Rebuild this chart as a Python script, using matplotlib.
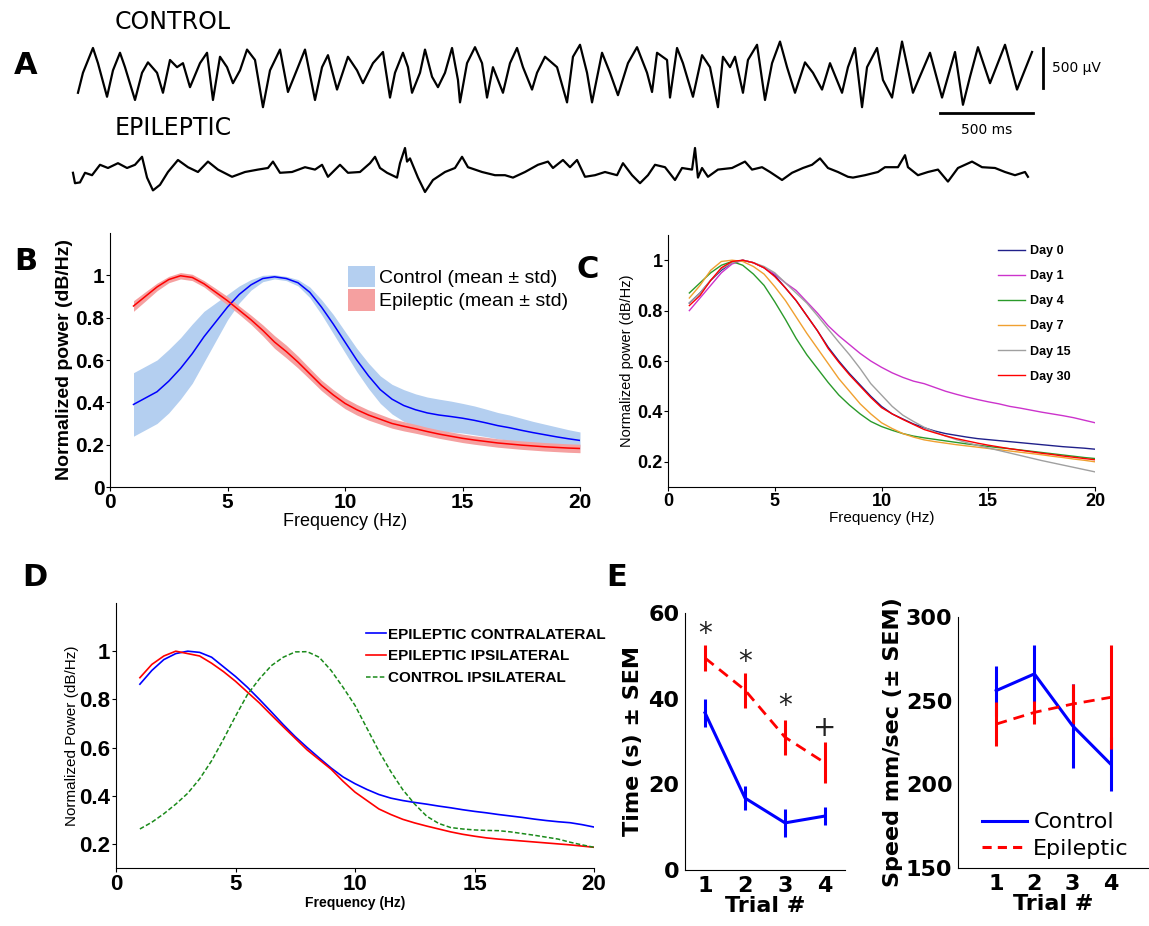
import matplotlib
matplotlib.use('Agg')
import matplotlib.pyplot as plt
import numpy as np
from matplotlib.patches import Patch
from matplotlib.lines import Line2D

# ---------------- data ----------------
# panel A: EEG traces (time in ms, voltage in uV)
ctrl_t = [16, 43, 97, 124, 173, 205, 243, 270, 324, 362, 394, 443, 475, 513, 551, 583, 621, 675, 713, 745,
          783, 821, 853, 891, 929, 972, 1015, 1053, 1107, 1150, 1204, 1242, 1296, 1334, 1366, 1415, 1474, 1523,
          1555, 1609, 1663, 1701,
          1728, 1771, 1798, 1820, 1863, 1890, 1928, 1960, 1998, 2036, 2068, 2079, 2117, 2160, 2198, 2225, 2257,
          2311, 2349, 2387, 2419, 2468, 2495, 2538, 2603, 2657, 2689, 2727, 2765, 2792, 2846, 2889, 2932, 2986,
          3035, 3089, 3116, 3143, 3197, 3213, 3251, 3283, 3337, 3386, 3429, 3472,
          3499, 3537, 3564, 3607, 3634, 3683, 3726, 3764, 3807, 3845, 3888, 3942, 3985, 4034, 4077, 4142, 4174,
          4212, 4250, 4277, 4331, 4363, 4412, 4466, 4525, 4617, 4682, 4752, 4795, 4833, 4876, 4941, 5022, 5087,
          5168]
ctrl_v = [-260, -10, 300, 110, -310, 20, 240, 60, -350, -10, 120, -10, -260, 150, 60, 110, -190, 110, 240, -350,
          190, 60, -140, 20, 280, 150, -440, 20, 280, -250, 60, 280, -350, 60, 210, -220, 190, 20,
          -140, 110, 250, -320,
          -10, 240, 60, -260, -10, 280, -60, -190, -10, 300, -100, -380, 110, 310, 110, -320, 60,
          -260, 110, 300, 60, -220, -10, 190, 60, -380, 190, 340, -10, -380, 240, -10, -290, 110,
          310, -10, -250, 240, 150, -320, 300, 110, -310, 210, 60, -440,
          190, 60, 190, -260, 150, 340, -350, 110, 380, 60, -260, 120, -10, -220, 110, -260, 60,
          300, -440, 60, 300, -100, -320, 380, -260, 240, -320, 250, -410, -60, 310, -140, 340, -220,
          250]

epi_t = [-11, 0, 27, 54, 92, 135, 178, 232, 281, 324, 362, 389, 421, 459, 502, 556, 610, 664, 718, 772,
         848, 918, 988, 1042, 1069, 1107, 1172, 1242, 1296, 1334, 1366, 1431, 1474, 1539, 1593, 1620, 1647,
         1685, 1739, 1755, 1782, 1793, 1809, 1852, 1890, 1933, 1998, 2052, 2090, 2122, 2198, 2268, 2322,
         2365, 2430, 2500, 2554, 2581,
         2635, 2673, 2711, 2754, 2808, 2862, 2927, 2959, 3008, 3051, 3094, 3132, 3186, 3240, 3278, 3332,
         3348, 3364, 3386, 3418, 3472, 3548, 3618, 3656, 3710, 3753, 3818, 3872, 3931, 3980, 4023, 4066,
         4120, 4174, 4201, 4266, 4336, 4374, 4444, 4482, 4498, 4552, 4606, 4660, 4714, 4768, 4844, 4898,
         4968, 5022, 5076, 5130, 5146]
epi_v = [-60, -190, -180, -60, -90, 40, 0, 60, 0, 40, 140, -120, -280, -210, -50, 100, 10, -50, 80, -20,
         -110, -50, -20, 0, 80, -60, -50, 10, -20, 40, -110, 40, -60, -50, 60, 140, 0,
         -60, -120, 60, 250, 80, 120, -120, -300, -150, -50, 0, 140, 10, -50, -90, -90,
         -120, -50, 40, 80, 0,
         100, 10, 100, -110, -90, -50, -90, 60, -90, -190, -90, 40, 10, -150, 0, -20,
         250, -120, 0, -110, -20, 0, 80, -20, 10, -50, -150, -60, 0, 40, 120, 0,
         -50, -110, -120, -90, -50, 10, 10, 160, 10, -90, -50, -20, -170, 0, 80, 10,
         0, -50, -90, -50, -110]
epi_offset = -1200

# spectra, frequency grid in Hz
freq = np.arange(1, 20.5, 0.5)

# panel B
ctrl_mean = [0.39, 0.42, 0.45, 0.50, 0.56, 0.63, 0.71, 0.78, 0.85, 0.91, 0.955, 0.985, 0.993, 0.985, 0.965,
             0.92, 0.85, 0.77, 0.685, 0.60, 0.525, 0.46, 0.415, 0.385, 0.365, 0.35, 0.34, 0.333, 0.325, 0.315,
             0.303, 0.29, 0.28, 0.268, 0.257, 0.247, 0.237, 0.228, 0.22]
ctrl_std = [0.15, 0.15, 0.15, 0.15, 0.145, 0.14, 0.12, 0.09, 0.06, 0.04, 0.025, 0.015, 0.01, 0.01, 0.015,
            0.025, 0.035, 0.045, 0.05, 0.055, 0.06, 0.065, 0.07, 0.075, 0.075, 0.075, 0.075, 0.073, 0.07,
            0.068, 0.065, 0.062, 0.06, 0.057, 0.053, 0.05, 0.047, 0.043, 0.04]
epi_mean = [0.855, 0.90, 0.945, 0.98, 0.998, 0.99, 0.96, 0.92, 0.88, 0.835, 0.79, 0.74, 0.685, 0.64, 0.59,
            0.535, 0.48, 0.435, 0.395, 0.365, 0.34, 0.32, 0.30, 0.287, 0.275, 0.262, 0.25, 0.24, 0.23, 0.222,
            0.215, 0.208, 0.203, 0.198, 0.194, 0.19, 0.187, 0.184, 0.182]
epi_std = [0.025, 0.022, 0.018, 0.015, 0.015, 0.015, 0.015, 0.018, 0.02, 0.02, 0.022, 0.026, 0.03, 0.03, 0.028,
           0.026, 0.025, 0.025, 0.025, 0.025, 0.024, 0.023, 0.022, 0.022, 0.021, 0.02, 0.02, 0.02, 0.02, 0.02,
           0.02, 0.02, 0.02, 0.02, 0.02, 0.02, 0.02, 0.02, 0.02]

# panel C
day_labels = ['Day 0', 'Day 1', 'Day 4', 'Day 7', 'Day 15', 'Day 30']
day_colors = ['#20208a', '#cc33cc', '#2a9a2a', '#f0a030', '#a0a0a0', '#ff0000']
day0 = [0.83, 0.87, 0.92, 0.96, 0.99, 1.0, 0.99, 0.97, 0.94, 0.89, 0.84, 0.78, 0.72, 0.655, 0.60, 0.55, 0.505,
        0.46, 0.42, 0.39, 0.37, 0.35, 0.335, 0.322, 0.312, 0.305, 0.298, 0.292, 0.288, 0.284, 0.28, 0.276,
        0.272, 0.268, 0.264, 0.26, 0.257, 0.254, 0.25]
day1 = [0.80, 0.85, 0.90, 0.95, 0.985, 1.0, 0.99, 0.97, 0.945, 0.91, 0.88, 0.835, 0.79, 0.74, 0.70, 0.665,
        0.63, 0.60, 0.575, 0.553, 0.535, 0.52, 0.51, 0.495, 0.48, 0.468, 0.457, 0.447, 0.438, 0.43, 0.42,
        0.413, 0.405, 0.397, 0.39, 0.383, 0.375, 0.365, 0.355]
day4 = [0.87, 0.91, 0.95, 0.98, 0.995, 0.98, 0.945, 0.90, 0.835, 0.765, 0.69, 0.625, 0.57, 0.515, 0.465,
        0.425, 0.39, 0.36, 0.34, 0.325, 0.312, 0.302, 0.295, 0.289, 0.283, 0.277, 0.271, 0.266, 0.261, 0.256,
        0.252, 0.247, 0.242, 0.237, 0.232, 0.227, 0.222, 0.217, 0.213]
day7 = [0.85, 0.90, 0.96, 0.995, 1.0, 0.995, 0.975, 0.945, 0.895, 0.84, 0.775, 0.71, 0.65, 0.59, 0.53, 0.48,
        0.43, 0.39, 0.355, 0.332, 0.312, 0.298, 0.287, 0.28, 0.274, 0.268, 0.263, 0.258, 0.253, 0.248, 0.243,
        0.238, 0.233, 0.228, 0.222, 0.217, 0.211, 0.206, 0.20]
day15 = [0.83, 0.87, 0.92, 0.965, 0.99, 1.0, 0.99, 0.975, 0.95, 0.91, 0.87, 0.83, 0.78, 0.727, 0.675, 0.625,
         0.57, 0.51, 0.465, 0.42, 0.385, 0.36, 0.337, 0.318, 0.302, 0.288, 0.276, 0.265, 0.255, 0.245, 0.235,
         0.225, 0.215, 0.205, 0.196, 0.187, 0.178, 0.169, 0.16]
day30 = [0.82, 0.86, 0.92, 0.97, 0.995, 1.0, 0.99, 0.97, 0.935, 0.89, 0.84, 0.78, 0.72, 0.65, 0.595, 0.545,
         0.50, 0.455, 0.415, 0.39, 0.368, 0.348, 0.328, 0.315, 0.303, 0.292, 0.283, 0.274, 0.266, 0.259, 0.252,
         0.246, 0.24, 0.234, 0.229, 0.223, 0.218, 0.213, 0.208]
day_curves = [day0, day1, day4, day7, day15, day30]

# panel D
contra_epi = [0.863, 0.92, 0.965, 0.99, 1.0, 0.995, 0.975, 0.935, 0.895, 0.85, 0.80, 0.748, 0.695, 0.645, 0.60,
              0.557, 0.515, 0.478, 0.45, 0.426, 0.405, 0.39, 0.38, 0.372, 0.365, 0.357, 0.35, 0.342, 0.335,
              0.329, 0.322, 0.316, 0.31, 0.303, 0.297, 0.292, 0.288, 0.28, 0.27]
ipsi_epi = [0.89, 0.945, 0.98, 1.0, 0.99, 0.98, 0.95, 0.915, 0.875, 0.83, 0.785, 0.735, 0.686, 0.638, 0.59,
            0.55, 0.51, 0.46, 0.415, 0.38, 0.345, 0.322, 0.302, 0.287, 0.274, 0.262, 0.25, 0.24, 0.232, 0.225,
            0.22, 0.216, 0.212, 0.208, 0.204, 0.20, 0.196, 0.191, 0.186]
ipsi_ctrl = [0.262, 0.29, 0.325, 0.365, 0.41, 0.47, 0.545, 0.635, 0.73, 0.82, 0.885, 0.94, 0.975, 0.997, 0.998,
             0.975, 0.92, 0.85, 0.775, 0.68, 0.585, 0.50, 0.425, 0.365, 0.315, 0.285, 0.268, 0.262, 0.258,
             0.256, 0.255, 0.25, 0.243, 0.236, 0.228, 0.22, 0.207, 0.196, 0.186]

# panel E
trials = [1, 2, 3, 4]
time_ctrl = [36.7, 16.8, 11.0, 12.6]
time_ctrl_sem = [3.3, 2.9, 3.2, 2.1]
time_epi = [49.5, 42.0, 31.0, 25.0]
time_epi_sem = [3.1, 4.1, 4.1, 4.8]
sig_marks = ['*', '*', '*', '+']
sig_y = [55.0, 48.6, 38.2, 33.2]
speed_ctrl = [256, 266, 235, 212]
speed_ctrl_sem = [15, 17, 25, 16]
speed_epi = [236, 243, 248, 252]
speed_epi_sem = [13, 7, 12, 31]

# ---------------- style ----------------
narrow = ['Liberation Sans Narrow', 'Liberation Sans', 'DejaVu Sans']
blue = '#0000ff'
red = '#ff0000'

fig = plt.figure(figsize=(11.49, 9.26), dpi=100)


def style_axes(ax, fs, family=narrow, weight='bold'):
    ax.spines['top'].set_visible(False)
    ax.spines['right'].set_visible(False)
    ax.tick_params(direction='out', length=3, width=0.8, labelsize=fs, pad=1)
    for lab in ax.get_xticklabels() + ax.get_yticklabels():
        lab.set_family(family)
        lab.set_weight(weight)


def fmt(v):
    return ('%g' % v)


# ---------------- A ----------------
axA = fig.add_axes([60 / 1149, 1 - 200 / 926, 1040 / 1149, 185 / 926])
axA.plot(ctrl_t, ctrl_v, color='black', lw=1.6)
axA.plot(epi_t, np.array(epi_v) + epi_offset, color='black', lw=1.6)
axA.set_xlim(-81, 5535)
axA.set_ylim(-1600, 712)
axA.axis('off')
# scale bars
axA.plot([5227, 5227], [300, -200], color='black', lw=2)
axA.text(5275, 50, '500 µV', fontsize=10, va='center', ha='left', family='DejaVu Sans')
axA.plot([4671, 5173], [-512, -512], color='black', lw=2)
axA.text(4922, -720, '500 ms', fontsize=10, va='center', ha='center', family='DejaVu Sans')
fig.text(115 / 1149, 1 - 22 / 926, 'CONTROL', fontsize=17, va='center', ha='left')
fig.text(115 / 1149, 1 - 128 / 926, 'EPILEPTIC', fontsize=17, va='center', ha='left')
fig.text(14 / 1149, 1 - 66 / 926, 'A', fontsize=22, weight='bold', va='center', ha='left')

# ---------------- B ----------------
axB = fig.add_axes([110 / 1149, 1 - 487 / 926, 470 / 1149, 254 / 926])
cm, cs = np.array(ctrl_mean), np.array(ctrl_std)
em, es = np.array(epi_mean), np.array(epi_std)
axB.fill_between(freq, cm - cs, cm + cs, color='#b4cff0', lw=0)
axB.fill_between(freq, em - es, em + es, color='#f5a0a0', lw=0)
axB.plot(freq, cm, color=blue, lw=1.1)
axB.plot(freq, em, color=red, lw=1.1)
axB.set_xlim(0, 20)
axB.set_ylim(0, 1.2)
axB.set_xticks([0, 5, 10, 15, 20])
axB.set_yticks([0, 0.2, 0.4, 0.6, 0.8, 1])
axB.set_yticklabels([fmt(v) for v in [0, 0.2, 0.4, 0.6, 0.8, 1]])
style_axes(axB, 15)
axB.set_xlabel('Frequency (Hz)', fontsize=13, family=narrow, labelpad=1)
axB.set_ylabel('Normalized power (dB/Hz)', fontsize=14, family=narrow, weight='bold', labelpad=2)
handles = [Patch(facecolor='#b4cff0', edgecolor='none'), Patch(facecolor='#f5a0a0', edgecolor='none')]
axB.legend(handles, ['Control (mean ± std)', 'Epileptic (mean ± std)'], loc='upper left',
           bbox_to_anchor=(0.49, 0.9), frameon=False, prop={'family': narrow, 'size': 14},
           handlelength=1.4, handleheight=1.3, handletextpad=0.2, labelspacing=0.1, borderaxespad=0)
fig.text(14 / 1149, 1 - 262 / 926, 'B', fontsize=22, weight='bold', va='center', ha='left')

# ---------------- C ----------------
axC = fig.add_axes([668 / 1149, 1 - 487 / 926, 427 / 1149, 252 / 926])
for lab, col, curve in zip(day_labels, day_colors, day_curves):
    axC.plot(freq, curve, color=col, lw=1.0, label=lab)
axC.set_xlim(0, 20)
axC.set_ylim(0.1, 1.1)
axC.set_xticks([0, 5, 10, 15, 20])
axC.set_yticks([0.2, 0.4, 0.6, 0.8, 1])
axC.set_yticklabels([fmt(v) for v in [0.2, 0.4, 0.6, 0.8, 1]])
style_axes(axC, 13)
axC.set_xlabel('Frequency (Hz)', fontsize=11, family=narrow, labelpad=1)
axC.set_ylabel('Normalized power (dB/Hz)', fontsize=10.5, family=narrow, labelpad=2)
axC.legend(loc='upper left', bbox_to_anchor=(0.76, 0.98), frameon=False,
           prop={'family': narrow, 'size': 9, 'weight': 'bold'}, handlelength=2.2, handletextpad=0.4,
           labelspacing=1.05, borderaxespad=0)
fig.text(576 / 1149, 1 - 270 / 926, 'C', fontsize=22, weight='bold', va='center', ha='left')

# ---------------- D ----------------
axD = fig.add_axes([116 / 1149, 1 - 868 / 926, 478 / 1149, 265 / 926])
axD.plot(freq, contra_epi, color=blue, lw=1.2, label='EPILEPTIC CONTRALATERAL')
axD.plot(freq, ipsi_epi, color=red, lw=1.2, label='EPILEPTIC IPSILATERAL')
axD.plot(freq, ipsi_ctrl, color='#1a8a1a', lw=1.1, ls=(0, (3, 1.5)), label='CONTROL IPSILATERAL')
axD.set_xlim(0, 20)
axD.set_ylim(0.1, 1.2)
axD.set_xticks([0, 5, 10, 15, 20])
axD.set_yticks([0.2, 0.4, 0.6, 0.8, 1])
axD.set_yticklabels([fmt(v) for v in [0.2, 0.4, 0.6, 0.8, 1]])
style_axes(axD, 16)
axD.set_xlabel('Frequency (Hz)', fontsize=10, family=narrow, weight='bold', labelpad=1)
axD.set_ylabel('Normalized Power (dB/Hz)', fontsize=11, family=narrow, labelpad=0)
axD.legend(loc='upper left', bbox_to_anchor=(0.51, 0.93), frameon=False,
           prop={'family': narrow, 'size': 11, 'weight': 'bold'}, handlelength=1.3, handletextpad=0.15,
           labelspacing=0.5, borderaxespad=0)
fig.text(22 / 1149, 1 - 578 / 926, 'D', fontsize=22, weight='bold', va='center', ha='left')

# ---------------- E ----------------
axE1 = fig.add_axes([685 / 1149, 1 - 870 / 926, 160 / 1149, 257 / 926])
axE1.errorbar(trials, time_ctrl, yerr=time_ctrl_sem, color=blue, lw=2.2, elinewidth=2.2, capsize=0)
axE1.errorbar(trials, time_epi, yerr=time_epi_sem, color=red, lw=2.0, ls=(0, (4, 2.5)), elinewidth=2.2,
              capsize=0)
for tr, mk, yy in zip(trials, sig_marks, sig_y):
    axE1.text(tr, yy, mk, fontsize=20, ha='center', va='center', color='#222222')
axE1.set_xlim(0.5, 4.5)
axE1.set_ylim(0, 60)
axE1.set_xticks(trials)
axE1.set_yticks([0, 20, 40, 60])
style_axes(axE1, 16, family='DejaVu Sans')
axE1.tick_params(length=0, pad=4)
axE1.set_xlabel('Trial #', fontsize=16, weight='bold', labelpad=0)
axE1.set_ylabel('Time (s) ± SEM', fontsize=16, weight='bold', labelpad=4)
fig.text(606 / 1149, 1 - 578 / 926, 'E', fontsize=22, weight='bold', va='center', ha='left')

axE2 = fig.add_axes([958 / 1149, 1 - 868 / 926, 191 / 1149, 251 / 926])
axE2.errorbar(trials, speed_ctrl, yerr=speed_ctrl_sem, color=blue, lw=2.2, elinewidth=2.2, capsize=0)
axE2.errorbar(trials, speed_epi, yerr=speed_epi_sem, color=red, lw=2.0, ls=(0, (4, 2.5)), elinewidth=2.2,
              capsize=0)
axE2.set_xlim(0, 5)
axE2.set_ylim(150, 300)
axE2.set_xticks(trials)
axE2.set_yticks([150, 200, 250, 300])
style_axes(axE2, 16, family='DejaVu Sans')
axE2.tick_params(length=0, pad=4)
axE2.set_xlabel('Trial #', fontsize=16, weight='bold', labelpad=0)
axE2.set_ylabel('Speed mm/sec (± SEM)', fontsize=16, weight='bold', labelpad=2)
leg_handles = [Line2D([], [], color=blue, lw=2.2), Line2D([], [], color=red, lw=2.2, ls=(0, (3, 2)))]
axE2.legend(leg_handles, ['Control', 'Epileptic'], loc='lower left', bbox_to_anchor=(0.08, 0.0),
            frameon=False, prop={'size': 16}, handlelength=2.0, handletextpad=0.3, labelspacing=0.3,
            borderaxespad=0)

fig.savefig('out.png', dpi=100, facecolor='white')
